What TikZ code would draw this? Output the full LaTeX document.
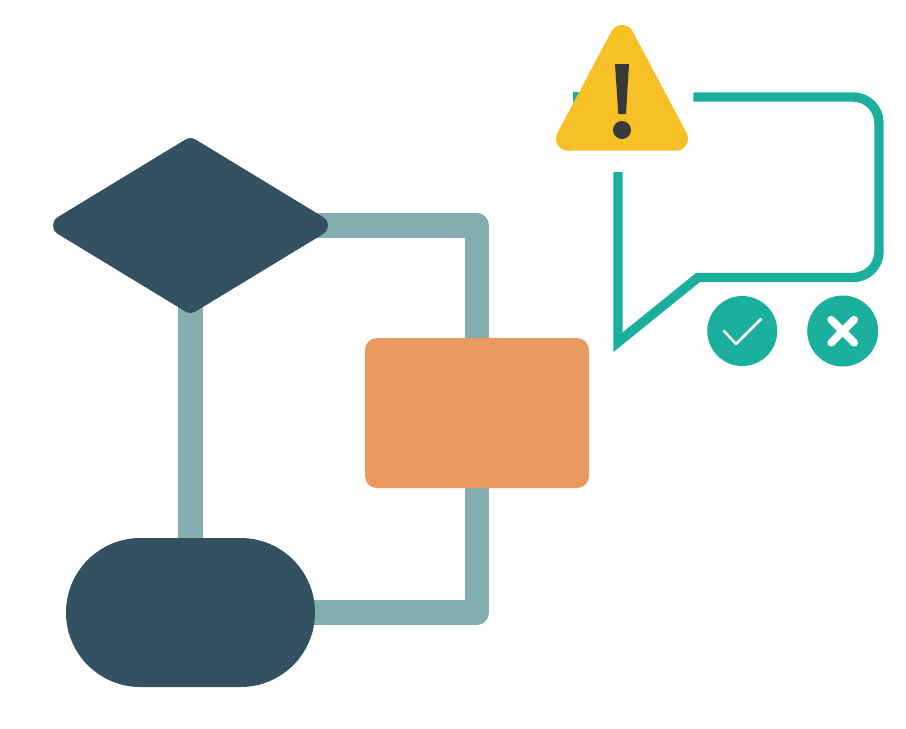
\documentclass[tikz,border=0pt]{standalone}
\usetikzlibrary{shapes.geometric,backgrounds}
\definecolor{darkslate}{HTML}{335161}
\definecolor{linkgrey}{HTML}{84ADB1}
\definecolor{procorange}{HTML}{EA9960}
\definecolor{bubbleteal}{HTML}{1BB09E}
\definecolor{warnyellow}{HTML}{F7C026}
\definecolor{markdark}{HTML}{383838}
\tikzset{
  x=0.75pt, y=-0.75pt,
  decision/.style={diamond, aspect=1.635, minimum width=197.25pt, minimum height=122.25pt, inner sep=0pt,
    draw=darkslate, fill=darkslate, line width=15pt, line join=round},
  terminal/.style={rectangle, minimum width=186.75pt, minimum height=111.75pt, inner sep=0pt,
    fill=darkslate, rounded corners=55.8pt},
  process/.style={rectangle, minimum width=168pt, minimum height=112.5pt, inner sep=0pt,
    fill=procorange, rounded corners=9pt},
  link/.style={draw=linkgrey, line width=18.4pt, line join=round},
  bubble/.style={draw=bubbleteal, line width=7.1pt, line join=miter, miter limit=10},
  badge/.style={circle, fill=bubbleteal, inner sep=0pt},
  tickmark/.style={draw=white, line width=1.9pt, line cap=round, line join=round},
  crossmark/.style={draw=white, line width=5.8pt, line cap=round},
  warning/.style={draw=warnyellow, fill=warnyellow, line width=18pt, line join=round},
  warnmark/.style={fill=markdark}
}
\begin{document}
\begin{tikzpicture}
\useasboundingbox (0,0) rectangle (906,728);
% flowchart
\node[decision] (dec) at (190.5,225.5) {};
\node[process] (proc) at (477,413) {};
\node[terminal] (term) at (190.5,612.5) {};
\begin{scope}[on background layer]
  \draw[link] (dec.center) -- (term.center);
  \draw[link] (dec.center) -| (proc.center);
  \draw[link] (proc.center) |- (term.center);
\end{scope}
% speech bubble
\draw[bubble] (693.3,97) -- (853,97) arc[start angle=-90, end angle=0, radius=26] -- (879,251.5)
  arc[start angle=0, end angle=90, radius=26] -- (698,277.5) -- (618,342.2) -- (618,172);
\draw[bubble] (573.3,97) -- (600,97);
% warning triangle
\draw[warning] (568,138.7) -- (622,37) -- (676,138.7) -- cycle;
\fill[warnmark] (615,64) -- (629,64) -- (626,114) -- (618.3,114) -- cycle;
\fill[warnmark] (622,130) circle[radius=9];
% accept / reject badges
\node[badge, minimum size=52.5pt] (accept) at (742.3,331) {};
\node[badge, minimum size=53.25pt] (reject) at (842.7,331) {};
\draw[tickmark] ([shift={(-18.3,0)}]accept.center) -- ([shift={(-6.3,13)}]accept.center) -- ([shift={(18.7,-12)}]accept.center);
\draw[crossmark] ([shift={(-11.5,-11.3)}]reject.center) -- ([shift={(11.5,11.7)}]reject.center);
\draw[crossmark] ([shift={(-11.5,11.7)}]reject.center) -- ([shift={(11.5,-11.3)}]reject.center);
\end{tikzpicture}
\end{document}
